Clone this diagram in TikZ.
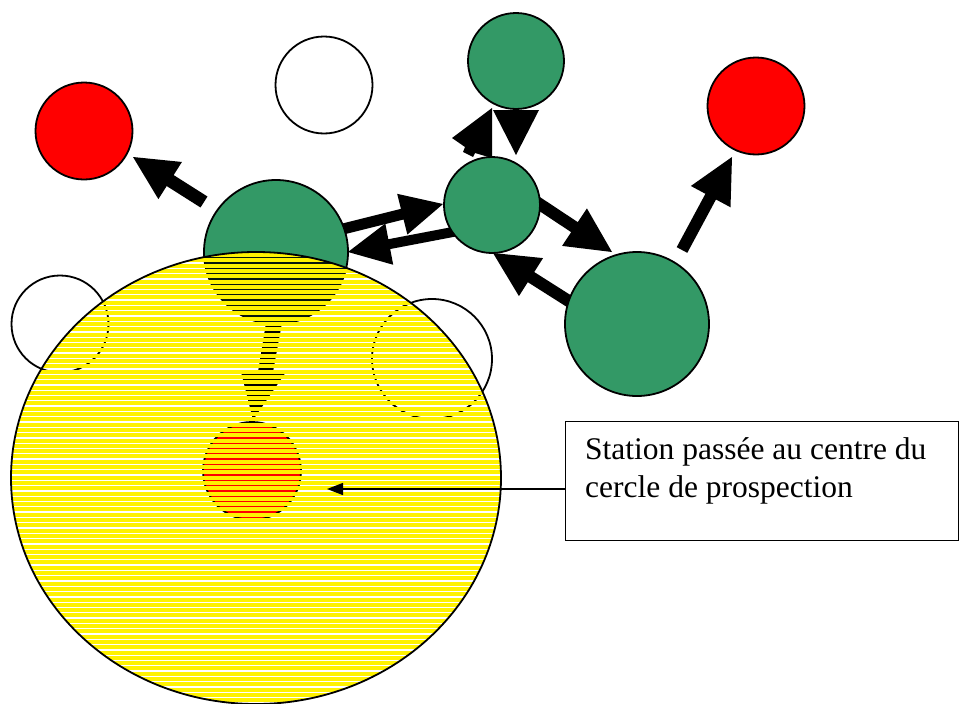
\documentclass[tikz,border=0pt]{standalone}
\usepackage{fontspec}
\setmainfont{Liberation Serif}
\usetikzlibrary{arrows.meta,calc}
\definecolor{sea}{RGB}{51,153,102}
\newcommand\blockarr[5]{% tail, tip, shaft half width, head half width, head length
  \coordinate (ab) at ($(#2)!#5!(#1)$);
  \fill[black] ($(#1)!#3!90:(#2)$) -- ($(ab)!#3!90:(#2)$) -- ($(ab)!#4!90:(#2)$) -- (#2)
    -- ($(ab)!#4!-90:(#2)$) -- ($(ab)!#3!-90:(#2)$) -- ($(#1)!#3!-90:(#2)$) -- cycle;}
\begin{document}
\begin{tikzpicture}[x=1pt,y=-1pt,
  disc/.style={circle,draw=black,line width=1.8pt,inner sep=0pt,minimum size=#1},
  stripe/.style={fill=yellow},
  callout/.style={draw=black,line width=1.3pt,inner sep=0pt},
  lbl/.style={anchor=base west,inner sep=0pt,font=\fontsize{31.5pt}{38pt}\selectfont}]
\useasboundingbox (0,0) rectangle (961,704);
\fill[white] (0,0) rectangle (961,704);

% block arrows (under the circles)
\coordinate (a1t) at (204,202); \coordinate (a1h) at (133,157);
\coordinate (a2t) at (343,229); \coordinate (a2h) at (443,204);
\coordinate (a3t) at (458,231); \coordinate (a3h) at (348,252);
\coordinate (a5t) at (535,201); \coordinate (a5h) at (612,252);
\coordinate (a6t) at (575,305); \coordinate (a6h) at (493,253);
\coordinate (a7t) at (682,250); \coordinate (a7h) at (732,157);
\blockarr{a1t}{a1h}{6.5pt}{22pt}{44pt}
\blockarr{a2t}{a2h}{5.5pt}{21pt}{42pt}
\blockarr{a3t}{a3h}{5pt}{21pt}{42pt}
\blockarr{a5t}{a5h}{6pt}{22.5pt}{45pt}
\blockarr{a6t}{a6h}{6pt}{22.5pt}{45pt}
\blockarr{a7t}{a7h}{6pt}{22.5pt}{45pt}
\fill[black] (493,110) -- (539,110) -- (516,155) -- cycle;
\fill[black] (492,108) -- (452,138) -- (465,147) -- (463,152) -- (473,157) -- (475,153) -- (492,158) -- cycle;

% circles
\node[disc=97pt,fill=red] (r1) at (84,131) {};
\node[disc=97pt,fill=white] (w1) at (324,85) {};
\node[disc=96pt,fill=sea] (g1) at (516,61) {};
\node[disc=96pt,fill=sea] (g2) at (492,205) {};
\node[disc=97pt,fill=red] (r2) at (756,106) {};
\node[disc=144pt,fill=sea] (g3) at (276,252) {};
\node[disc=144pt,fill=sea] (g4) at (637,324) {};
\node[disc=97pt,fill=white] (w2) at (60,324) {};
\node[disc=120pt,fill=white] (w3) at (432,359) {};

% prospection circle (striped yellow)
\coordinate (yc) at (256,478);
\begin{scope}
  \clip (yc) ellipse [x radius=245pt, y radius=226pt];
  \fill[black!85!sea] (g3.center) circle [radius=72pt];
  \fill[black] (266,323) -- (282,323) -- (273,372) -- (286,372) -- (253,420) -- (241,372) -- (258,372) -- cycle;
  \node[disc=98pt,fill=red] (r3) at (252,471) {};
  \foreach \k in {0,...,86}
    \fill[stripe] (0,{253+5.3*\k}) rectangle (961,{257+5.3*\k});
\end{scope}
\draw[line width=1.8pt] (yc) ellipse [x radius=245pt, y radius=226pt];

% callout
\node[callout,anchor=north west,minimum width=393pt,minimum height=119pt] (box) at (565,421) {};
\node[lbl] (t1) at (585,459) {Station passée au centre du};
\node[lbl] (t2) at (585,497) {cercle de prospection};
\coordinate (cs) at (565,489);
\coordinate (ct) at (327,489);
\draw[line width=1.3pt,-{Triangle[width=12pt,length=16pt]}] (cs) -- (ct);
\end{tikzpicture}
\end{document}
